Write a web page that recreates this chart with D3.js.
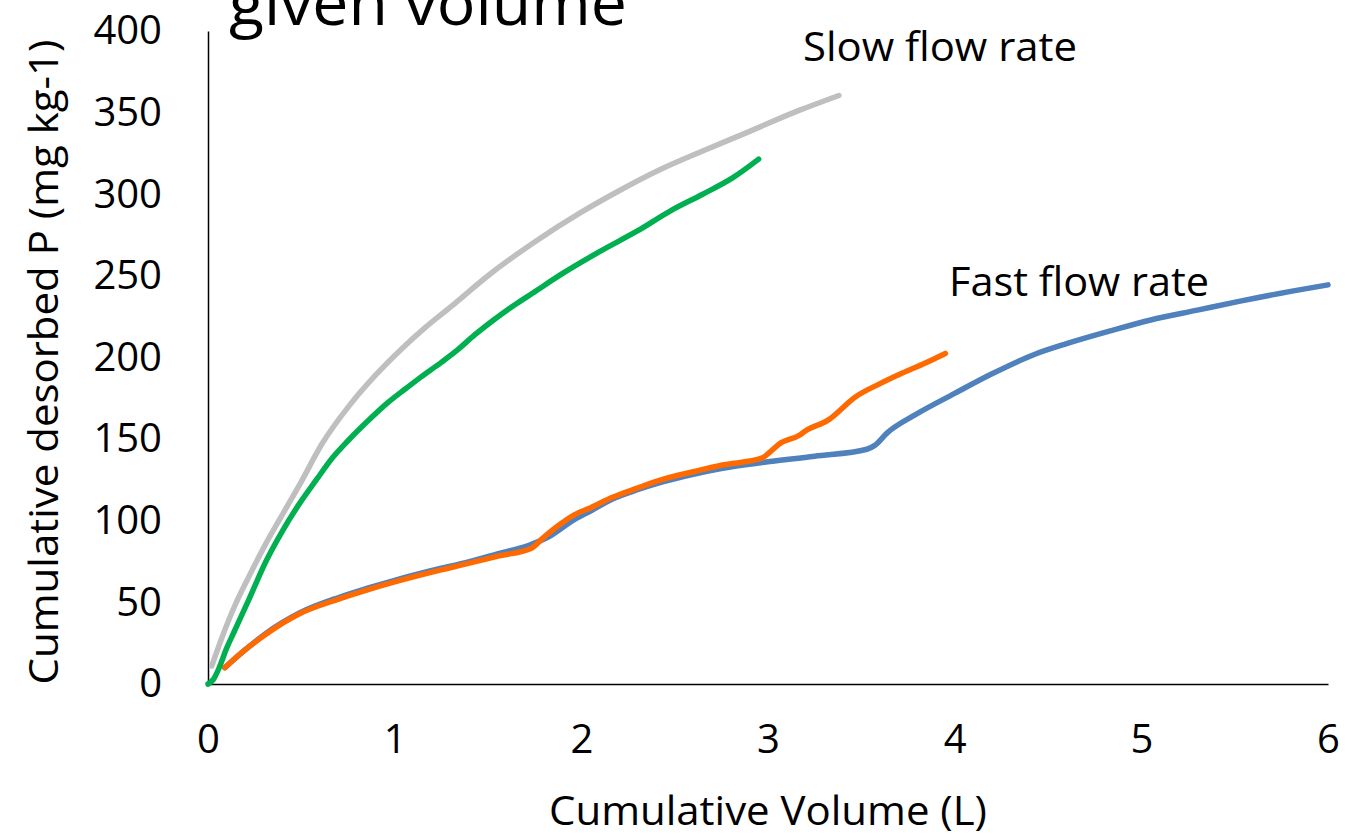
<!DOCTYPE html>
<html>
<head>
<meta charset="utf-8">
<script src="https://cdn.jsdelivr.net/npm/d3@7"></script>
<style>
  html, body { margin: 0; padding: 0; background: #fff; }
  svg { display: block; }
  text { font-family: "Open Sans", "Noto Sans", sans-serif; fill: #000; }
</style>
</head>
<body>
<svg id="chart" width="1345" height="834"></svg>
<script>
// Cumulative volume (L) vs cumulative desorbed P (mg kg-1)
const xTicks = [0, 1, 2, 3, 4, 5, 6];
const yTicks = [0, 50, 100, 150, 200, 250, 300, 350, 400];

// Slow flow rate, replicate 1 (grey)
const slowA = [
  [0.02, 11], [0.07, 27], [0.14, 47], [0.22, 66], [0.31, 86], [0.41, 106],
  [0.5, 124], [0.61, 147], [0.76, 171], [0.9, 189.5], [1.03, 204.5], [1.16, 218],
  [1.3, 231], [1.51, 251], [1.74, 270], [2.0, 289], [2.2, 302], [2.42, 315],
  [2.65, 326.5], [2.87, 337], [3.17, 351.5], [3.38, 360.5]
];
// Slow flow rate, replicate 2 (green)
const slowB = [
  [0.0, 0], [0.03, 3], [0.06, 10], [0.1, 22], [0.14, 32], [0.22, 52], [0.31, 75],
  [0.4, 94], [0.49, 110.5], [0.58, 125], [0.67, 139], [0.75, 149], [0.86, 161.5],
  [0.96, 172], [1.06, 181], [1.14, 188], [1.25, 197], [1.33, 204], [1.43, 214],
  [1.53, 223], [1.64, 232], [1.74, 239.5], [1.9, 251.5], [2.1, 265], [2.3, 277.5],
  [2.48, 290], [2.65, 300], [2.81, 310], [2.95, 321.5]
];
// Fast flow rate, replicate 1 (blue)
const fastA = [
  [0.09, 10], [0.2, 21], [0.31, 31], [0.49, 43.5], [0.7, 53], [0.85, 58.5],
  [1.0, 63.5], [1.2, 69.5], [1.4, 75], [1.56, 80], [1.72, 85], [1.83, 90.5],
  [1.96, 100.5], [2.05, 106], [2.17, 113.5], [2.3, 119], [2.44, 124], [2.6, 128.5],
  [2.75, 132], [2.97, 135.6], [3.25, 139.5], [3.53, 143.8], [3.57, 146], [3.64, 154],
  [3.79, 165], [4.0, 178], [4.2, 190], [4.43, 202], [4.6, 208.5], [4.84, 216.5],
  [5.05, 223], [5.3, 229], [5.53, 234.5], [5.8, 240.5], [6.0, 244.5]
];
// Fast flow rate, replicate 2 (orange)
const fastB = [
  [0.09, 10], [0.2, 21], [0.31, 30.5], [0.49, 43], [0.7, 52], [0.85, 57.5],
  [1.0, 62.5], [1.2, 68.5], [1.4, 74], [1.56, 78.5], [1.73, 83], [1.8, 90],
  [1.87, 96.5], [1.96, 103.5], [2.05, 108], [2.17, 114.5], [2.3, 120], [2.44, 125.5],
  [2.6, 130], [2.75, 134], [2.97, 138.5], [3.01, 142], [3.06, 147], [3.17, 152.5],
  [3.2, 155], [3.32, 161.5], [3.47, 176], [3.6, 184], [3.72, 190.5], [3.84, 196.5],
  [3.95, 202.5]
];

const seriesColors = ["#4F81BD", "#FF6A00", "#BFBFBF", "#00B050"];

const svg = d3.select("#chart");
const margin = { left: 208, right: 17, top: 31, bottom: 150 };
const W = 1345, H = 834;

const x = d3.scaleLinear().domain([0, 6]).range([margin.left, W - margin.right]);
const y = d3.scaleLinear().domain([0, 400]).range([H - margin.bottom, margin.top]);

// Axes (no tick marks, Excel style)
const xAxis = d3.axisBottom(x).tickValues(xTicks).tickSize(0).tickPadding(41).tickFormat(d3.format("d"));
const yAxis = d3.axisLeft(y).tickValues(yTicks).tickSize(0).tickPadding(46).tickFormat(d3.format("d"));

const gx = svg.append("g").attr("transform", `translate(0,${y(0)})`).call(xAxis);
const gy = svg.append("g").attr("transform", `translate(${x(0)},0)`).call(yAxis);
[gx, gy].forEach(g => {
  g.select(".domain").attr("stroke", "#000").attr("stroke-width", 1.5);
  g.selectAll("text").style("font-family", '"Open Sans", sans-serif').style("font-size", "40px").attr("fill", "#000");
});

// Series lines
const line = d3.line().x(d => x(d[0])).y(d => y(d[1])).curve(d3.curveMonotoneX);
const plot = svg.append("g");
[fastA, fastB, slowA, slowB].forEach((s, i) => {
  plot.append("path")
    .datum(s)
    .attr("d", line)
    .attr("fill", "none")
    .attr("stroke", seriesColors[i])
    .attr("stroke-width", 5.5)
    .attr("stroke-linecap", "round")
    .attr("stroke-linejoin", "round");
});

// Annotations
svg.append("text").attr("x", 803).attr("y", 61)
  .attr("font-size", 40).attr("textLength", 274).attr("lengthAdjust", "spacingAndGlyphs")
  .text("Slow flow rate");
svg.append("text").attr("x", 949).attr("y", 296)
  .attr("font-size", 40).attr("textLength", 260).attr("lengthAdjust", "spacingAndGlyphs")
  .text("Fast flow rate");

// Title (second line of the heading, clipped by the top edge)
svg.append("text").attr("x", 229).attr("y", 25)
  .attr("font-size", 62).attr("textLength", 398).attr("lengthAdjust", "spacingAndGlyphs")
  .text("given volume");

// Axis titles
svg.append("text").attr("x", 768).attr("y", 825).attr("text-anchor", "middle")
  .attr("font-size", 40).attr("textLength", 438).attr("lengthAdjust", "spacingAndGlyphs")
  .text("Cumulative Volume (L)");
svg.append("text")
  .attr("transform", "translate(58,362) rotate(-90)")
  .attr("text-anchor", "middle")
  .attr("font-size", 40).attr("textLength", 645).attr("lengthAdjust", "spacingAndGlyphs")
  .text("Cumulative desorbed P (mg kg-1)");
</script>
</body>
</html>
